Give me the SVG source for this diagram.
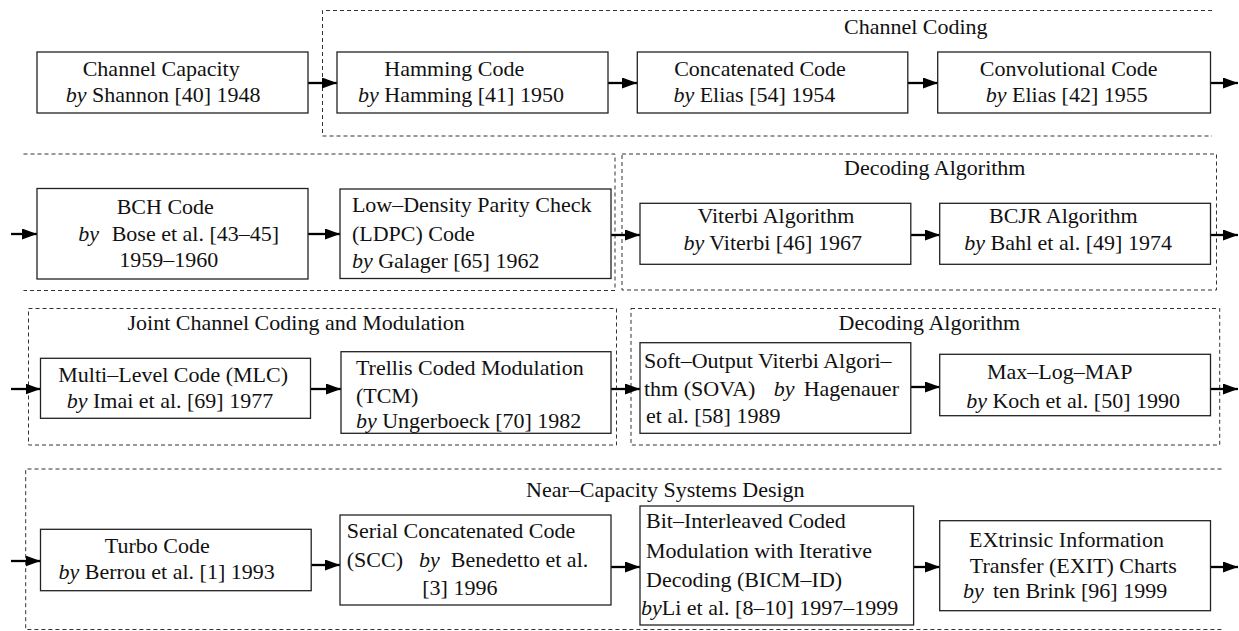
<svg xmlns="http://www.w3.org/2000/svg" width="1239" height="631" viewBox="0 0 1239 631">
<style>
text{font-family:"Liberation Serif","Times New Roman",serif;font-size:22px;fill:#111}
.it{font-style:italic}
.box{fill:#fff;stroke:#222;stroke-width:1.3}
.grp{fill:none;stroke:#333;stroke-width:1;stroke-dasharray:4 3}
.arr{stroke:#000;stroke-width:2.3;fill:none;marker-end:url(#ah)}
</style>
<defs>
<marker id="ah" markerUnits="userSpaceOnUse" markerWidth="15" markerHeight="11" refX="15" refY="5.5" orient="auto">
<path d="M0,0 L15,5.5 L0,11 z" fill="#000"/>
</marker>
</defs>

<g id="groups">
<g id="grp-channel-coding">
<path class="grp" d="M1212,10.5 H322.5 V136 H1212"/>
<text x="844" y="34">Channel Coding</text>
</g>
<g id="grp-row2-left">
<path class="grp" d="M23.5,154 H615 V290.5 H23.5"/>
</g>
<g id="grp-decoding-1">
<rect class="grp" x="622" y="154" width="594.5" height="136"/>
<text x="844" y="175">Decoding Algorithm</text>
</g>
<g id="grp-joint">
<rect class="grp" x="28.5" y="308.5" width="588" height="136.5"/>
<text x="127.5" y="329.5">Joint Channel Coding and Modulation</text>
</g>
<g id="grp-decoding-2">
<rect class="grp" x="631" y="308.5" width="588.7" height="136.5"/>
<text x="838.6" y="329.5">Decoding Algorithm</text>
</g>
<g id="grp-near-capacity">
<path class="grp" d="M1221.5,469 H25.7 V629.5 H1221.5"/>
<text x="526" y="496.7">Near–Capacity Systems Design</text>
</g>
</g>

<g id="connectors">
<line class="arr" x1="308" y1="83" x2="337" y2="83"/>
<line class="arr" x1="608" y1="83" x2="637" y2="83"/>
<line class="arr" x1="908" y1="83" x2="938" y2="83"/>
<line class="arr" x1="1210.5" y1="83" x2="1238" y2="83"/>

<line class="arr" x1="11" y1="234" x2="37" y2="234"/>
<line class="arr" x1="308" y1="234" x2="340" y2="234"/>
<line class="arr" x1="611" y1="235" x2="640" y2="235"/>
<line class="arr" x1="911" y1="235" x2="940" y2="235"/>
<line class="arr" x1="1210.5" y1="235" x2="1238" y2="235"/>

<line class="arr" x1="11" y1="389" x2="40.5" y2="389"/>
<line class="arr" x1="310.5" y1="389" x2="341" y2="389"/>
<line class="arr" x1="611" y1="389" x2="640" y2="389"/>
<line class="arr" x1="911" y1="387" x2="940" y2="387"/>
<line class="arr" x1="1210.5" y1="389" x2="1238" y2="389"/>

<line class="arr" x1="11" y1="561" x2="40.5" y2="561"/>
<line class="arr" x1="311" y1="565" x2="340" y2="565"/>
<line class="arr" x1="611" y1="567" x2="640" y2="567"/>
<line class="arr" x1="913.5" y1="567" x2="940" y2="567"/>
<line class="arr" x1="1210.5" y1="567" x2="1238" y2="567"/>
</g>

<g id="n-capacity">
<rect class="box" x="37" y="52" width="271" height="61"/>
<text x="82.7" y="76">Channel Capacity</text>
<text x="65.7" y="102"><tspan class="it">by</tspan> Shannon [40] 1948</text>
</g>
<g id="n-hamming">
<rect class="box" x="337" y="52" width="271" height="61"/>
<text x="384.3" y="76">Hamming Code</text>
<text x="358" y="102"><tspan class="it">by</tspan> Hamming [41] 1950</text>
</g>
<g id="n-concatenated">
<rect class="box" x="637.3" y="52" width="270.5" height="61"/>
<text x="674.2" y="76">Concatenated Code</text>
<text x="673.4" y="102"><tspan class="it">by</tspan> Elias [54] 1954</text>
</g>
<g id="n-convolutional">
<rect class="box" x="937.7" y="52" width="272.8" height="61"/>
<text x="979.8" y="76">Convolutional Code</text>
<text x="985.8" y="102"><tspan class="it">by</tspan> Elias [42] 1955</text>
</g>

<g id="n-bch">
<rect class="box" x="37" y="188.5" width="271" height="90.5"/>
<text x="116.7" y="214">BCH Code</text>
<text y="241"><tspan class="it" x="78.3">by</tspan><tspan x="111.7">Bose et al. [43–45]</tspan></text>
<text x="119.3" y="267">1959–1960</text>
</g>
<g id="n-ldpc">
<rect class="box" x="340" y="189" width="271" height="89.5"/>
<text x="351.9" y="212">Low–Density Parity Check</text>
<text x="351.9" y="240.5">(LDPC) Code</text>
<text x="351.9" y="268"><tspan class="it">by</tspan> Galager [65] 1962</text>
</g>
<g id="n-viterbi">
<rect class="box" x="640" y="203.3" width="270.8" height="61"/>
<text x="697.4" y="223.3">Viterbi Algorithm</text>
<text x="683.4" y="250"><tspan class="it">by</tspan> Viterbi [46] 1967</text>
</g>
<g id="n-bcjr">
<rect class="box" x="939.7" y="203.3" width="270.8" height="61"/>
<text x="989" y="223.3">BCJR Algorithm</text>
<text x="964.2" y="250"><tspan class="it">by</tspan> Bahl et al. [49] 1974</text>
</g>

<g id="n-mlc">
<rect class="box" x="40.5" y="358.3" width="270" height="60"/>
<text x="58.3" y="381.7">Multi–Level Code (MLC)</text>
<text x="66.7" y="408.3"><tspan class="it">by</tspan> Imai et al. [69] 1977</text>
</g>
<g id="n-tcm">
<rect class="box" x="341" y="351.7" width="270" height="81.6"/>
<text x="355.9" y="375">Trellis Coded Modulation</text>
<text x="355.9" y="403">(TCM)</text>
<text x="355.9" y="428"><tspan class="it">by</tspan> Ungerboeck [70] 1982</text>
</g>
<g id="n-sova">
<rect class="box" x="640" y="342.7" width="270.8" height="90.6"/>
<text x="644" y="368.3">Soft–Output Viterbi Algori–</text>
<text y="396"><tspan x="644">thm (SOVA)</tspan><tspan class="it" x="773.7">by</tspan><tspan x="803.7">Hagenauer</tspan></text>
<text x="646" y="423.3">et al. [58] 1989</text>
</g>
<g id="n-maxlogmap">
<rect class="box" x="939.7" y="354.3" width="270.8" height="61.4"/>
<text x="987" y="379.3">Max–Log–MAP</text>
<text x="966.2" y="408.3"><tspan class="it">by</tspan> Koch et al. [50] 1990</text>
</g>

<g id="n-turbo">
<rect class="box" x="40.5" y="529.3" width="270.7" height="61.4"/>
<text x="104.8" y="553.3">Turbo Code</text>
<text x="58.5" y="579.3"><tspan class="it">by</tspan> Berrou et al. [1] 1993</text>
</g>
<g id="n-scc">
<rect class="box" x="340" y="515" width="271" height="90"/>
<text x="346.8" y="538.3">Serial Concatenated Code</text>
<text y="566.7"><tspan x="346.8">(SCC)</tspan><tspan class="it" x="419">by</tspan><tspan x="450.8">Benedetto et al.</tspan></text>
<text x="422.3" y="595">[3] 1996</text>
</g>
<g id="n-bicm">
<rect class="box" x="640" y="506" width="273.6" height="119"/>
<text x="646" y="528.3">Bit–Interleaved Coded</text>
<text x="646" y="558.3">Modulation with Iterative</text>
<text x="646" y="586.7">Decoding (BICM–ID)</text>
<text x="641" y="615"><tspan class="it">by</tspan>Li et al. [8–10] 1997–1999</text>
</g>
<g id="n-exit">
<rect class="box" x="939.7" y="520.7" width="270.8" height="90"/>
<text x="969" y="546.7">EXtrinsic Information</text>
<text x="969.8" y="573.3">Transfer (EXIT) Charts</text>
<text y="598.3"><tspan class="it" x="963">by</tspan><tspan x="993">ten Brink [96] 1999</tspan></text>
</g>
</svg>
